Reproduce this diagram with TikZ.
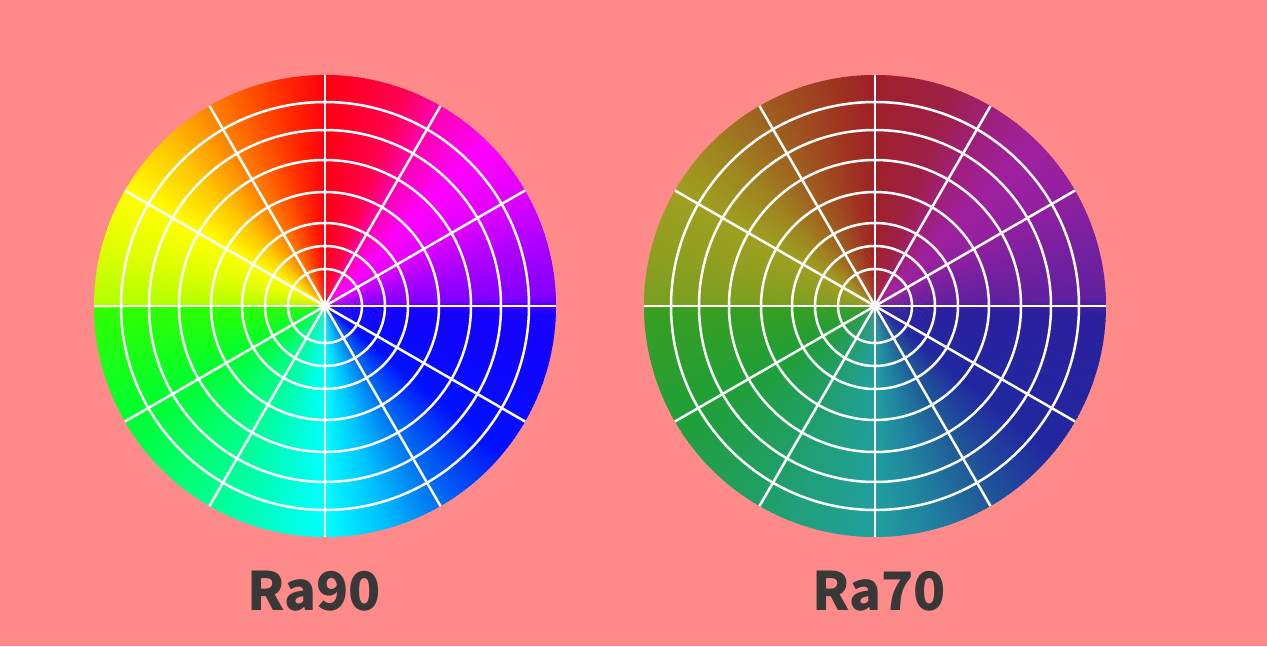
\documentclass[tikz,border=0pt]{standalone}
\usepackage{fontspec}
\newfontfamily\labelfont{Noto Sans CJK SC}
\definecolor{bg}{HTML}{FF8A8A}
\definecolor{txt}{HTML}{383838}
\definecolor{dim}{HTML}{404040}
\tikzset{
  gridline/.style={draw=white, line width=2.5pt},
  wheellabel/.style={text=txt, anchor=base, inner sep=0pt, font=\labelfont\bfseries\fontsize{53}{53}\selectfont}
}
\newcommand\huewheel[1]{%
  \foreach \a/\b/\ca/\cb in {
    -180/-150/30FF00/00FF30,
    -150/-120/00FF30/00FF90,
    -120/-90/00FF90/00FFFF,
    -90/-75/00FFFF/00C0FF,
    -75/-60/00C0FF/0070F0,
    -60/-40/0070F0/0010FF,
    -40/-2/0010FF/1800FF,
    -2/2/1800FF/8000FF,
    2/15/8000FF/A800FF,
    15/30/A800FF/E000FF,
    30/45/E000FF/FF00FF,
    45/60/FF00FF/FF00B0,
    60/70/FF00B0/FF0050,
    70/90/FF0050/FF0010,
    90/100/FF0010/FF2800,
    100/120/FF2800/FF8000,
    120/135/FF8000/FFC800,
    135/150/FFC800/FFFF00,
    150/165/FFFF00/E0FF00,
    165/180/E0FF00/B0FF00}{%
    \definecolor{ca}{HTML}{\ca}%
    \definecolor{cb}{HTML}{\cb}%
    \pgfmathtruncatemacro\n{\b-\a-1}%
    \foreach \k in {0,...,\n}{%
      \pgfmathsetmacro\t{\a+\k}%
      \pgfmathtruncatemacro\p{100*(\k+0.5)/(\b-\a)}%
      \colorlet{mixc}{cb!\p!ca}%
      \colorlet{fc}{mixc!#1!dim}%
      \fill[fc] (0,0) -- (\t:231pt) arc[start angle=\t, delta angle=1.4, radius=231pt] -- cycle;
    }%
  }%
  \foreach \r in {37,60,83,114,146,176,204}
    \draw[gridline] (0,0) circle[radius=\r pt];
  \foreach \an in {0,30,...,330}
    \draw[gridline] (0,0) -- (\an:231pt);
}
\begin{document}
\begin{tikzpicture}[x=1pt,y=1pt]
  \fill[bg] (0,0) rectangle (1267,646);
  \useasboundingbox (0,0) rectangle (1267,646);
  \begin{scope}[shift={(325,340)}]
    \huewheel{100}
  \end{scope}
  \begin{scope}[shift={(875,340)}]
    \huewheel{50}
  \end{scope}
  \node[wheellabel] (ra90) at (314,36) {Ra90};
  \node[wheellabel] (ra70) at (879,36) {Ra70};
\end{tikzpicture}
\end{document}
